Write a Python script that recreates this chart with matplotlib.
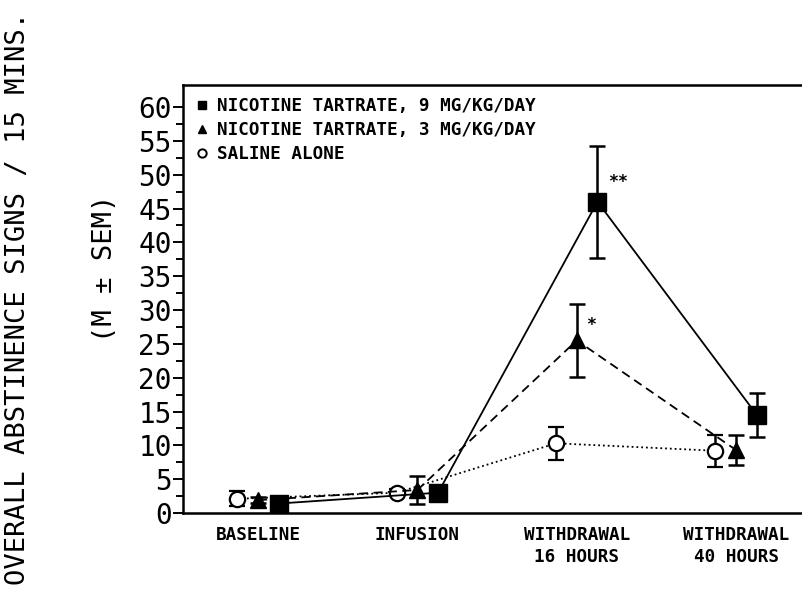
import numpy as np
import matplotlib
matplotlib.use("Agg")
import matplotlib.pyplot as plt
from matplotlib.lines import Line2D

categories = ["BASELINE", "INFUSION", "WITHDRAWAL\n16 HOURS", "WITHDRAWAL\n40 HOURS"]

nic9 = [1.4, 3.0, 46.0, 14.5]
nic9_sem = [0.3, 0.5, 8.3, 3.3]
nic3 = [1.9, 3.4, 25.5, 9.3]
nic3_sem = [0.4, 2.1, 5.4, 2.2]
saline = [2.1, 3.0, 10.3, 9.2]
saline_sem = [1.1, 0.5, 2.4, 2.4]

labels = ["NICOTINE TARTRATE, 9 MG/KG/DAY",
          "NICOTINE TARTRATE, 3 MG/KG/DAY",
          "SALINE ALONE"]
stars = {"nic9": "**", "nic3": "*"}

MONO = "DejaVu Sans Mono"

fig = plt.figure(figsize=(8.03, 5.97), dpi=100)
ax = fig.add_axes([0.228, 0.1407, 0.772, 0.7169])

x = np.arange(len(categories))

# saline: dotted, open circles (drawn left of the category)
ax.errorbar(x - 0.13, saline, yerr=saline_sem, color="black", ls=":",
            lw=1.3, marker="o", ms=11, mfc="white", mec="black", mew=1.6,
            elinewidth=1.8, capsize=5.5, capthick=1.8, zorder=3)
# 3 mg: dashed, triangles
ax.errorbar(x, nic3, yerr=nic3_sem, color="black", ls=(0, (5, 3)),
            lw=1.3, marker="^", ms=12, mfc="black", mec="black",
            elinewidth=1.8, capsize=5.5, capthick=1.8, zorder=4)
# 9 mg: solid, squares
ax.errorbar(x + 0.13, nic9, yerr=nic9_sem, color="black", ls="-",
            lw=1.3, marker="s", ms=12.5, mfc="black", mec="black",
            elinewidth=1.8, capsize=5.5, capthick=1.8, zorder=5)

# significance marks
ax.annotate(stars["nic9"], (x[2] + 0.13, nic9[2]), xytext=(15, 14),
            textcoords="offset points", fontsize=12, fontweight="bold",
            family=MONO, ha="center", va="center")
ax.annotate(stars["nic3"], (x[2], nic3[2]), xytext=(10, 11),
            textcoords="offset points", fontsize=12, fontweight="bold",
            family=MONO, ha="center", va="center")

ax.set_xlim(-0.471, 3.42)
ax.set_ylim(0, 63.25)
ax.set_yticks(np.arange(0, 61, 5))
ax.set_yticks(np.arange(0, 61, 2.5), minor=True)
ax.set_xticks(x)
ax.set_xticklabels(categories, family=MONO, fontweight="bold",
                   fontsize=12.7, linespacing=1.35)
ax.tick_params(axis="x", length=0, pad=9)
ax.tick_params(axis="y", which="major", length=7, width=1.4,
               labelsize=20, pad=1)
ax.tick_params(axis="y", which="minor", length=5, width=1.4)
for t in ax.get_yticklabels():
    t.set_family(MONO)

ax.spines["right"].set_visible(False)
for s in ["left", "top", "bottom"]:
    ax.spines[s].set_linewidth(1.8)

handles = [
    Line2D([], [], ls="none", marker="s", ms=6, mfc="black", mec="black"),
    Line2D([], [], ls="none", marker="^", ms=6, mfc="black", mec="black"),
    Line2D([], [], ls="none", marker="o", ms=6, mfc="white", mec="black",
           mew=1.4),
]
leg = ax.legend(handles, labels, loc="upper left", frameon=False,
                bbox_to_anchor=(0.0, 1.0), handlelength=0.8,
                handletextpad=0.4, labelspacing=0.33, borderaxespad=0.3,
                prop={"family": MONO, "weight": "bold", "size": 12.7})

fig.text(0.022, 0.5, "OVERALL ABSTINENCE SIGNS / 15 MINS.", rotation=90,
         ha="center", va="center", family=MONO, fontsize=19.5)
fig.text(0.131, 0.55, "(M \u00b1 SEM)", rotation=90,
         ha="center", va="center", family=MONO, fontsize=19.5)

fig.savefig("out.png", dpi=100)
